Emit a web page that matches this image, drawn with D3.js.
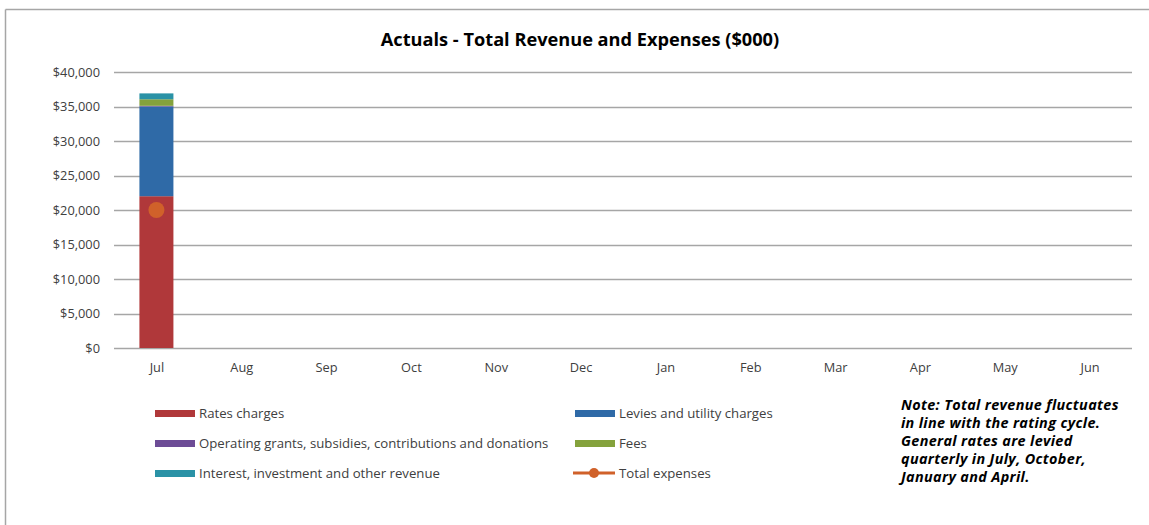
<!DOCTYPE html>
<html>
<head>
<meta charset="utf-8">
<script src="https://cdn.jsdelivr.net/npm/d3@7"></script>
<style>
  html, body { margin: 0; padding: 0; background: #fff; }
  svg { display: block; font-family: "Open Sans", Lato, sans-serif; }
</style>
</head>
<body>
<svg id="chart" width="1149" height="525"></svg>
<script>
// Months of the financial year
const months = ["Jul","Aug","Sep","Oct","Nov","Dec","Jan","Feb","Mar","Apr","May","Jun"];

// Revenue components ($000) — only July has actuals so far
const ratesCharges    = [22000, null, null, null, null, null, null, null, null, null, null, null];
const leviesUtility   = [13000, null, null, null, null, null, null, null, null, null, null, null];
const operatingGrants = [100,   null, null, null, null, null, null, null, null, null, null, null];
const fees            = [950,   null, null, null, null, null, null, null, null, null, null, null];
const interestOther   = [850,   null, null, null, null, null, null, null, null, null, null, null];
const totalExpenses   = [20000, null, null, null, null, null, null, null, null, null, null, null];

const yTicks = [0, 5000, 10000, 15000, 20000, 25000, 30000, 35000, 40000];

const seriesDefs = [
  { key: "rates",    name: "Rates charges", values: ratesCharges, color: "#b0383a" },
  { key: "levies",   name: "Levies and utility charges", values: leviesUtility, color: "#2f6aa7" },
  { key: "grants",   name: "Operating grants, subsidies, contributions and donations", values: operatingGrants, color: "#6d4c96" },
  { key: "fees",     name: "Fees", values: fees, color: "#84a23c" },
  { key: "interest", name: "Interest, investment and other revenue", values: interestOther, color: "#2a92a6" }
];
const expenseColor = "#d0612a";

const svg = d3.select("#chart");

// outer frame (top and left edges are visible)
svg.append("line").attr("x1", 5.5).attr("x2", 1149).attr("y1", 9.5).attr("y2", 9.5)
  .attr("stroke", "#a6a6a6").attr("stroke-width", 1.5);
svg.append("line").attr("x1", 5.5).attr("x2", 5.5).attr("y1", 9.5).attr("y2", 525)
  .attr("stroke", "#a6a6a6").attr("stroke-width", 1.5);

// title
svg.append("text").attr("x", 580).attr("y", 46).attr("text-anchor", "middle")
  .attr("font-size", 18.2).attr("font-weight", "bold").attr("fill", "#000")
  .text("Actuals - Total Revenue and Expenses ($000)");

const plot = { left: 114, right: 1132, top: 72, bottom: 348 };

const y = d3.scaleLinear().domain([0, 40000]).range([plot.bottom, plot.top]);

// gridlines
svg.append("g").selectAll("line").data(yTicks).join("line")
  .attr("x1", plot.left).attr("x2", plot.right)
  .attr("y1", d => Math.round(y(d)) + 0.5).attr("y2", d => Math.round(y(d)) + 0.5)
  .attr("stroke", "#a6a6a6").attr("stroke-width", 1.5);

// y axis labels
const yAxis = d3.axisLeft(y).tickValues(yTicks).tickSize(0).tickPadding(14)
  .tickFormat(d => "$" + d3.format(",")(d));
const yg = svg.append("g").attr("transform", `translate(${plot.left},0)`).call(yAxis);
yg.select(".domain").remove();
yg.selectAll("text").attr("font-size", 12.8).attr("fill", "#404040").style("font-family", "'Open Sans', sans-serif");

// x axis labels
const bandCenter = d3.scalePoint().domain(months).range([plot.left, plot.right]).padding(0.5);
const xAxis = d3.axisBottom(bandCenter).tickSize(0).tickPadding(15);
const xg = svg.append("g").attr("transform", `translate(0,${plot.bottom})`).call(xAxis);
xg.select(".domain").remove();
xg.selectAll("text").attr("font-size", 12.8).attr("fill", "#404040").style("font-family", "'Open Sans', sans-serif");

// stacked bars
const rows = months.map((m, i) => {
  const r = { month: m };
  seriesDefs.forEach(s => { r[s.key] = s.values[i] || 0; });
  return r;
});
const stack = d3.stack().keys(seriesDefs.map(s => s.key));
const stacked = stack(rows);
const bw = 34;
svg.append("g").selectAll("g").data(stacked).join("g")
  .attr("fill", (d, i) => seriesDefs[i].color)
  .selectAll("rect").data(d => d.filter(v => v[1] > v[0])).join("rect")
  .attr("x", d => bandCenter(d.data.month) - bw / 2)
  .attr("width", bw)
  .attr("y", d => y(d[1]))
  .attr("height", d => y(d[0]) - y(d[1]));

// total expenses line with markers
const expPts = months.map((m, i) => ({ m, v: totalExpenses[i] })).filter(d => d.v != null);
svg.append("path").datum(expPts)
  .attr("fill", "none").attr("stroke", expenseColor).attr("stroke-width", 2.5)
  .attr("d", d3.line().x(d => bandCenter(d.m)).y(d => y(d.v)));
svg.append("g").selectAll("circle").data(expPts).join("circle")
  .attr("cx", d => bandCenter(d.m)).attr("cy", d => y(d.v)).attr("r", 8)
  .attr("fill", expenseColor);

// legend
const legendItems = [
  { name: seriesDefs[0].name, color: seriesDefs[0].color, col: 0, row: 0 },
  { name: seriesDefs[1].name, color: seriesDefs[1].color, col: 1, row: 0 },
  { name: seriesDefs[2].name, color: seriesDefs[2].color, col: 0, row: 1 },
  { name: seriesDefs[3].name, color: seriesDefs[3].color, col: 1, row: 1 },
  { name: seriesDefs[4].name, color: seriesDefs[4].color, col: 0, row: 2 },
  { name: "Total expenses", color: expenseColor, col: 1, row: 2, line: true }
];
const colX = [155, 575];
const lg = svg.append("g").selectAll("g").data(legendItems).join("g")
  .attr("transform", d => `translate(${colX[d.col]},${413 + d.row * 30})`);
lg.filter(d => !d.line).append("rect")
  .attr("x", 0).attr("y", -3).attr("width", 40).attr("height", 7)
  .attr("fill", d => d.color);
lg.filter(d => d.line).append("line")
  .attr("x1", -2).attr("x2", 40).attr("y1", 0).attr("y2", 0)
  .attr("stroke", d => d.color).attr("stroke-width", 3);
lg.filter(d => d.line).append("circle")
  .attr("cx", 19).attr("cy", 0).attr("r", 5).attr("fill", d => d.color);
lg.append("text").attr("x", 44).attr("y", 0).attr("dy", "0.35em")
  .attr("font-size", 13.2).attr("fill", "#404040")
  .text(d => d.name);

// note
const noteLines = [
  "Note: Total revenue fluctuates",
  "in line with the rating cycle.",
  "General rates are levied",
  "quarterly in July, October,",
  "January and April."
];
svg.append("g").selectAll("text").data(noteLines).join("text")
  .attr("x", 901).attr("y", (d, i) => 410 + i * 18)
  .attr("font-size", 14.4).attr("font-weight", "bold").attr("font-style", "italic")
  .attr("letter-spacing", "0.35px")
  .attr("fill", "#000").text(d => d);
</script>
</body>
</html>
